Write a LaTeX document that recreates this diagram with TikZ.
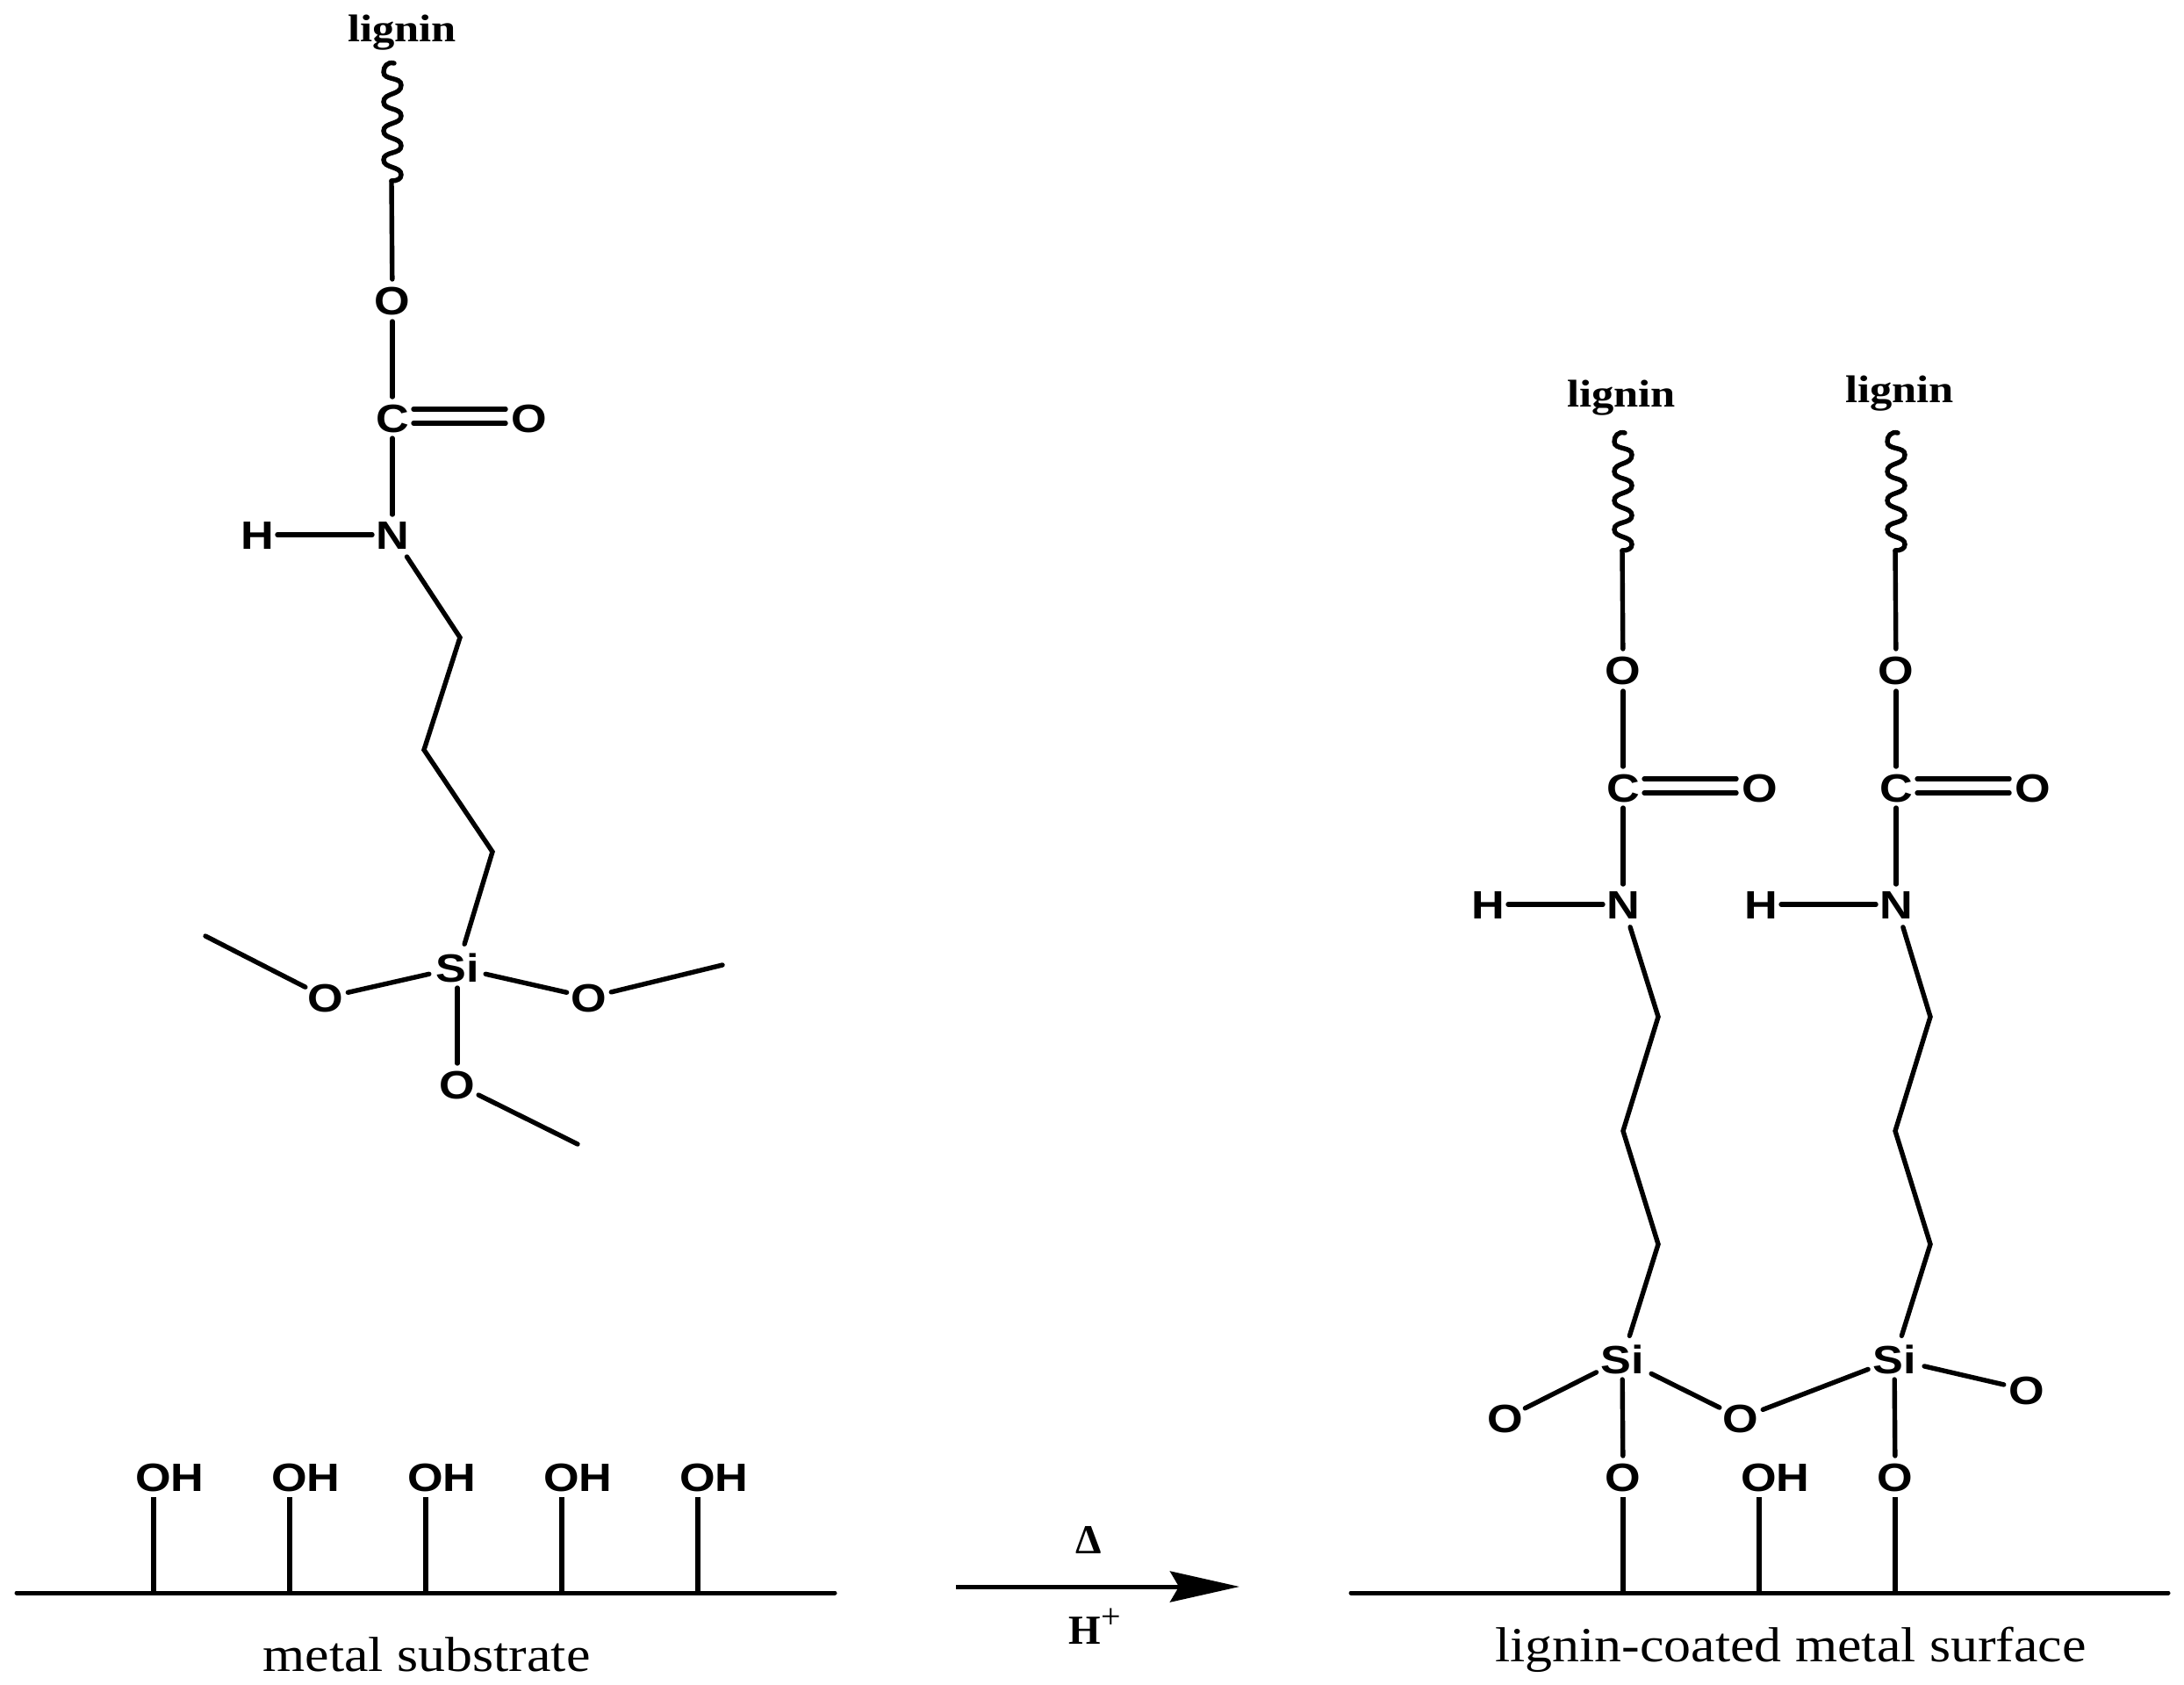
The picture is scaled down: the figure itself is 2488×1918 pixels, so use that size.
\documentclass[tikz,border=0pt]{standalone}
\usepackage{fontspec}
\usetikzlibrary{arrows.meta}
\newfontfamily\chemfont[FakeStretch=1.16]{Liberation Sans}
\newfontfamily\capfont[FakeStretch=1.105]{Liberation Serif}
\newfontfamily\ligfont[FakeStretch=1.15]{Liberation Serif}
\setmainfont{Liberation Serif}
\tikzset{
  atom/.style={inner sep=0pt,outer sep=0pt,text height=16pt,text depth=0pt,
    font=\chemfont\fontsize{22.5}{22.5}\selectfont\bfseries},
  ligninlabel/.style={inner sep=0pt,anchor=base,font=\ligfont\fontsize{22}{22}\selectfont\bfseries},
  caption/.style={inner sep=0pt,anchor=base,font=\capfont\fontsize{28}{28}\selectfont},
  condition/.style={inner sep=0pt,anchor=base,font=\fontsize{23.5}{23.5}\selectfont\bfseries},
  bondline/.style={line width=2.7pt,line cap=round,line join=miter,black},
  surface/.style={line width=2.5pt,line cap=round,black},
  wavy/.style={line width=2.7pt,line cap=round,black},
}
% bond between two named points; #3,#4: gaps in reference pixels
\newcommand{\bnd}[4]{\draw[bondline,shorten <=#3*0.5pt,shorten >=#4*0.5pt] (#1.center) -- (#2.center);}
% carbamate arm: O-C(=O)-N(H) with its wavy tail
\newcommand{\arm}[3]{%
  \begin{scope}[shift={(#2,#3)}]
    \node[atom] (#1Oa) at (0,763) {O};
    \node[atom] (#1C) at (0,897) {C};
    \node[atom] (#1Ob) at (156,897) {O};
    \node[atom] (#1N) at (0,1030) {N};
    \node[atom] (#1H) at (-154,1030) {H};
    \coordinate (#1w) at (-1,627);
    \draw[wavy] (2,493) .. controls (-6,491) and (-10,497) .. (-10,503)
      .. controls (-10,513) and (10,508) .. (10,518)
      .. controls (10,530) and (-10,526) .. (-10,537)
      .. controls (-10,547) and (10,543) .. (10,553)
      .. controls (10,563) and (-10,560) .. (-10,570)
      .. controls (-10,580) and (10,577) .. (10,587)
      .. controls (10,597) and (-10,593) .. (-10,603)
      .. controls (-10,613) and (10,610) .. (10,620)
      .. controls (10,625) and (5,627) .. (#1w);
    \bnd{#1w}{#1Oa}{0}{24}
    \bnd{#1Oa}{#1C}{24}{24}
    \bnd{#1C}{#1N}{23}{23}
    \bnd{#1H}{#1N}{23}{23}
    \draw[bondline,shorten <=12pt,shorten >=13.5pt] ([yshift=5pt]#1C.center) -- ([yshift=5pt]#1Ob.center);
    \draw[bondline,shorten <=12pt,shorten >=13.5pt] ([yshift=-3pt]#1C.center) -- ([yshift=-3pt]#1Ob.center);
  \end{scope}}
\begin{document}
\begin{tikzpicture}[x=0.5pt,y=-0.5pt]
\useasboundingbox (0,0) rectangle (2488,1918);

% ---- left molecule
\node[ligninlabel] (ligL) at (458,47) {lignin};
\arm{L}{447}{-421}
\coordinate (La) at (524,726);
\coordinate (Lb) at (483,854);
\coordinate (Lc) at (561,970);
\node[atom] (LSi) at (521,1102) {Si};
\node[atom] (LO1) at (371,1136) {O};
\node[atom] (LO2) at (671,1136) {O};
\node[atom] (LO3) at (521,1235) {O};
\coordinate (LM1) at (234,1066);
\coordinate (LM2) at (823,1099);
\coordinate (LM3) at (658,1303);
\draw[bondline,shorten <=15pt,shorten >=14pt] (LN.center) -- (La) -- (Lb) -- (Lc) -- (LSi.center);
\bnd{LSi}{LO1}{33}{26}
\bnd{LSi}{LO2}{33}{26}
\bnd{LSi}{LO3}{23}{24}
\bnd{LO1}{LM1}{26}{0}
\bnd{LO2}{LM2}{26}{0}
\bnd{LO3}{LM3}{27}{0}

% ---- metal substrate
\coordinate (subA) at (19,1814);
\coordinate (subB) at (951,1814);
\draw[surface] (subA) -- (subB);
\foreach \i/\x in {1/175,2/330,3/485,4/640,5/795}{
  \coordinate (s\i) at (\x,1814);
  \node[atom] (oh\i) at (\x+18.5,1682) {OH};
  \draw[bondline,line cap=butt,shorten <=3.5pt] (s\i |- oh\i.south) -- (s\i);
}
\node[caption] (capL) at (486,1903) {metal substrate};

% ---- reaction arrow
\coordinate (arrA) at (1089,1807);
\coordinate (arrB) at (1412,1807);
\draw[line width=2.5pt,-{Stealth[length=39.5pt,width=17.5pt,inset=5pt]}] (arrA) -- (arrB);
\node[condition] (heat) at (1240,1769) {Δ};
\node[condition] (acid) at (1247,1872) {H\raisebox{9pt}{\fontsize{20}{20}\selectfont\mdseries +}};

% ---- right molecule
\node[ligninlabel] (ligR1) at (1847,463) {lignin};
\node[ligninlabel] (ligR2) at (2164,458) {lignin};
\arm{A}{1849}{0}
\arm{B}{2160}{0}
\foreach \p/\x in {A/1889,B/2199}{
  \coordinate (\p a) at (\x,1158);
  \coordinate (\p b) at (\x-40,1288);
  \coordinate (\p c) at (\x,1417);
}
\node[atom] (ASi) at (1848,1548) {Si};
\node[atom] (BSi) at (2158,1548) {Si};
\node[atom] (AO1) at (1715,1615) {O};
\node[atom] (MO) at (1983,1615) {O};
\node[atom] (BO1) at (2309,1583) {O};
\node[atom] (AO2) at (1849,1682) {O};
\node[atom] (BO2) at (2159,1682) {O};
\node[atom] (ROH) at (2022.5,1682) {OH};
\draw[bondline,shorten <=13.5pt,shorten >=14pt] (AN.center) -- (Aa) -- (Ab) -- (Ac) -- (ASi.center);
\draw[bondline,shorten <=13.5pt,shorten >=14pt] (BN.center) -- (Ba) -- (Bb) -- (Bc) -- (BSi.center);
\bnd{ASi}{AO1}{33}{25}
\bnd{ASi}{MO}{37}{27}
\bnd{BSi}{MO}{32}{27}
\bnd{BSi}{BO1}{35}{27}
\bnd{ASi}{AO2}{23}{24}
\bnd{BSi}{BO2}{23}{24}
\coordinate (r1) at (1849,1814);
\coordinate (r2) at (2004,1814);
\coordinate (r3) at (2159,1814);
\coordinate (rA) at (1539,1814);
\coordinate (rB) at (2470,1814);
\draw[surface] (rA) -- (rB);
\draw[bondline,line cap=butt,shorten <=23*0.5pt] (AO2.center) -- (r1);
\draw[bondline,line cap=butt,shorten <=23*0.5pt] (BO2.center) -- (r3);
\draw[bondline,line cap=butt,shorten <=3.5pt] (r2 |- ROH.south) -- (r2);
\node[caption] (capR) at (2040,1892) {lignin-coated metal surface};
\end{tikzpicture}
\end{document}
